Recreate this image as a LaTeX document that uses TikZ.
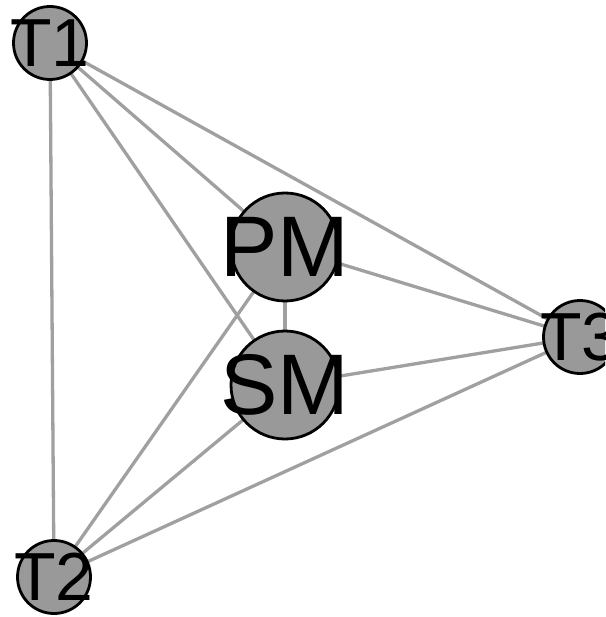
\documentclass[tikz,border=0pt]{standalone}
\usepackage{fontspec}
\setmainfont{Liberation Sans}
\definecolor{edgegray}{RGB}{160,160,160}
\definecolor{fillgray}{RGB}{153,153,153}
\begin{document}
\begin{tikzpicture}[x=1pt,y=-1pt,
  vert/.style={circle,draw=black,line width=2.8pt,fill=fillgray,inner sep=0pt},
  small/.style={vert,minimum size=73pt},
  big/.style={vert,minimum size=108pt},
  lbl/.style={inner sep=0pt,text=black},
  edge/.style={draw=edgegray,line width=3.3pt}]
\useasboundingbox (0,0) rectangle (605,617);
\clip (0,0) rectangle (605,617);
\coordinate (cT1) at (50,43);
\coordinate (cT2) at (54,577);
\coordinate (cT3) at (580,337);
\coordinate (cPM) at (285,247);
\coordinate (cSM) at (285,385);
% edges
\draw[edge] (cT1) -- (cT2);
\draw[edge] (cT1) -- (cPM);
\draw[edge] (cT1) -- (cSM);
\draw[edge] (cT1) -- (cT3);
\draw[edge] (cPM) -- (cSM);
\draw[edge] (cPM) -- (cT3);
\draw[edge] (cPM) -- (cT2);
\draw[edge] (cSM) -- (cT3);
\draw[edge] (cSM) -- (cT2);
\draw[edge] (cT2) -- (cT3);
% vertices
\node[small] (T1) at (cT1) {};
\node[small] (T2) at (cT2) {};
\node[small] (T3) at (cT3) {};
\node[big] (PM) at (cPM) {};
\node[big] (SM) at (cSM) {};
% labels
\node[lbl,font=\fontsize{68}{68}\selectfont] (lT1) at (cT1) {T1};
\node[lbl,font=\fontsize{68}{68}\selectfont] (lT2) at (cT2) {T2};
\node[lbl,font=\fontsize{68}{68}\selectfont] (lT3) at (cT3) {T3};
\node[lbl,font=\fontsize{86}{86}\selectfont] (lPM) at (cPM) {PM};
\node[lbl,font=\fontsize{86}{86}\selectfont] (lSM) at (cSM) {SM};
\end{tikzpicture}
\end{document}
